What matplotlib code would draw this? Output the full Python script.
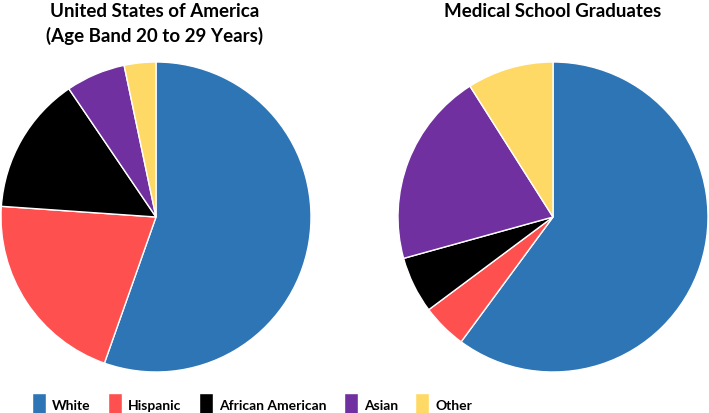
import matplotlib.pyplot as plt

categories = ["White", "Hispanic", "African American", "Asian", "Other"]
colors = ["#2E75B6", "#FF5050", "#000000", "#7030A0", "#FFD966"]
usa_values = [55.4, 20.7, 14.4, 6.2, 3.3]
med_values = [60.1, 4.7, 5.9, 20.3, 9.0]
titles = ["United States of America\n(Age Band 20 to 29 Years)", "Medical School Graduates"]

plt.rcParams['font.family'] = ['Lato', 'DejaVu Sans']

fig = plt.figure(figsize=(7.09, 4.14), dpi=100)

ax1 = fig.add_axes([1 / 709, 41 / 414, 310 / 709, 310 / 414])
ax2 = fig.add_axes([398 / 709, 41 / 414, 310 / 709, 310 / 414])

wedges = None
for ax, vals in [(ax1, usa_values), (ax2, med_values)]:
    wedges, _ = ax.pie(vals, colors=colors, startangle=90, counterclock=False,
                       wedgeprops=dict(edgecolor="white", linewidth=1))
    ax.set_xlim(-1.0, 1.0)
    ax.set_ylim(-1.0, 1.0)
    ax.set_aspect("equal")

fig.text(155 / 709, 1 - 3 / 414, titles[0], ha="center", va="top",
         fontsize=13.5, fontweight="bold", linespacing=1.45)
fig.text(553 / 709, 1 - 3 / 414, titles[1], ha="center", va="top",
         fontsize=13.5, fontweight="bold")

fig.legend(wedges, categories, loc="center", bbox_to_anchor=(252 / 709, 1 - 406 / 414),
           ncol=5, frameon=False, prop=dict(weight="bold", size=10),
           handlelength=1.0, handleheight=2.2, handletextpad=0.45, columnspacing=1.25,
           borderpad=0, borderaxespad=0)

fig.savefig("out.png", dpi=100)
